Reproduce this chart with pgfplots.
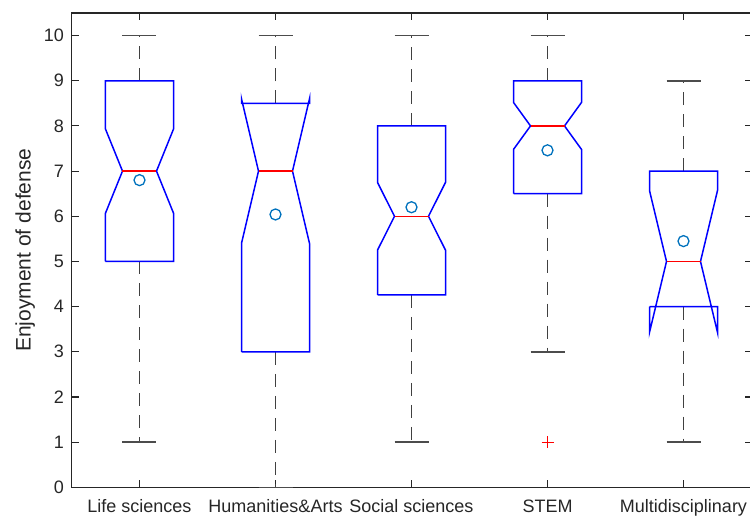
\documentclass[border=0pt]{standalone}
\usepackage{pgfplots}
\pgfplotsset{compat=1.18}
\usepackage{fontspec}
\setmainfont{Liberation Sans}
\definecolor{axgray}{rgb}{0.15,0.15,0.15}
\definecolor{meanblue}{rgb}{0,0.447,0.741}
\begin{document}
\begin{tikzpicture}
\useasboundingbox (-71.5bp,-30.7bp) rectangle (678.5bp,487.3bp);
\begin{axis}[
 at={(0,0)}, anchor=south west,
 scale only axis, width=680bp, height=474.3bp,
 xmin=0.5, xmax=5.5, ymin=0, ymax=10.5,
 xtick={1,2,3,4,5},
 xticklabels={Life sciences, Humanities\&Arts, Social sciences, STEM, Multidisciplinary},
 ytick={0,1,...,10},
 tick align=inside, major tick length=7bp,
 axis line style={axgray, line width=1.1bp},
 tick style={axgray, line width=1.1bp},
 ticklabel style={font=\fontsize{18bp}{20bp}\selectfont, text=axgray},
 xticklabel style={yshift=-9bp},
 yticklabel style={xshift=-4bp},
 ylabel={Enjoyment of defense},
 label style={font=\fontsize{21bp}{23bp}\selectfont, text=axgray},
 ylabel style={at={(axis description cs:-0.068,0.5)}, anchor=center},
 /pgf/number format/assume math mode=true,
 clip=false,
 unbounded coords=jump,
]
% whiskers (dashed)
\addplot[black!75, line width=1.5bp, dash pattern=on 13bp off 9bp] coordinates {
 (1,9)(1,10) (1,nan) (1,5)(1,1) (1,nan)
 (2,8.5)(2,10) (2,nan) (2,3)(2,0) (2,nan)
 (3,8)(3,10) (3,nan) (3,4.26)(3,1) (3,nan)
 (4,9)(4,10) (4,nan) (4,6.5)(4,3) (4,nan)
 (5,7)(5,9) (5,nan) (5,4)(5,1)
};
% caps
\addplot[black!70, line width=1.5bp] coordinates {
 (0.875,10)(1.125,10) (1,nan) (0.875,1)(1.125,1) (1,nan)
 (1.875,10)(2.125,10) (2,nan) (1.875,0)(2.125,0) (2,nan)
 (2.875,10)(3.125,10) (3,nan) (2.875,1)(3.125,1) (3,nan)
 (3.875,10)(4.125,10) (4,nan) (3.875,3)(4.125,3) (4,nan)
 (4.875,9)(5.125,9) (5,nan) (4.875,1)(5.125,1)
};
% notched boxes
\addplot[blue, line width=1.5bp] coordinates {(0.75,5) (0.75,6.07) (0.875,7) (0.75,7.93) (0.75,9) (1.25,9) (1.25,7.93) (1.125,7) (1.25,6.07) (1.25,5) (0.75,5)};
\addplot[blue, line width=1.5bp] coordinates {(1.75,3) (1.75,5.4) (1.875,7) (1.75,8.6) (1.75,8.5) (2.25,8.5) (2.25,8.6) (2.125,7) (2.25,5.4) (2.25,3) (1.75,3)};
\addplot[blue, line width=1.5bp] coordinates {(2.75,4.26) (2.75,5.25) (2.875,6) (2.75,6.75) (2.75,8) (3.25,8) (3.25,6.75) (3.125,6) (3.25,5.25) (3.25,4.26) (2.75,4.26)};
\addplot[blue, line width=1.5bp] coordinates {(3.75,6.5) (3.75,7.48) (3.875,8) (3.75,8.52) (3.75,9) (4.25,9) (4.25,8.52) (4.125,8) (4.25,7.48) (4.25,6.5) (3.75,6.5)};
\addplot[blue, line width=1.5bp] coordinates {(4.75,4) (4.75,3.43) (4.875,5) (4.75,6.57) (4.75,7) (5.25,7) (5.25,6.57) (5.125,5) (5.25,3.43) (5.25,4) (4.75,4)};
% medians
\addplot[red, line width=1.4bp] coordinates {
 (0.875,7)(1.125,7) (1,nan) (1.875,7)(2.125,7) (2,nan) (2.875,6)(3.125,6) (3,nan) (3.875,8)(4.125,8) (4,nan) (4.875,5)(5.125,5)
};
% outlier
\addplot[only marks, mark=+, mark size=6bp, red, line width=1.1bp] coordinates {(4,1)};
% means
\addplot[only marks, mark=o, mark size=5.5bp, meanblue, line width=1.3bp] coordinates {(1,6.8)(2,6.04)(3,6.2)(4,7.46)(5,5.45)};
\end{axis}
\end{tikzpicture}
\end{document}
